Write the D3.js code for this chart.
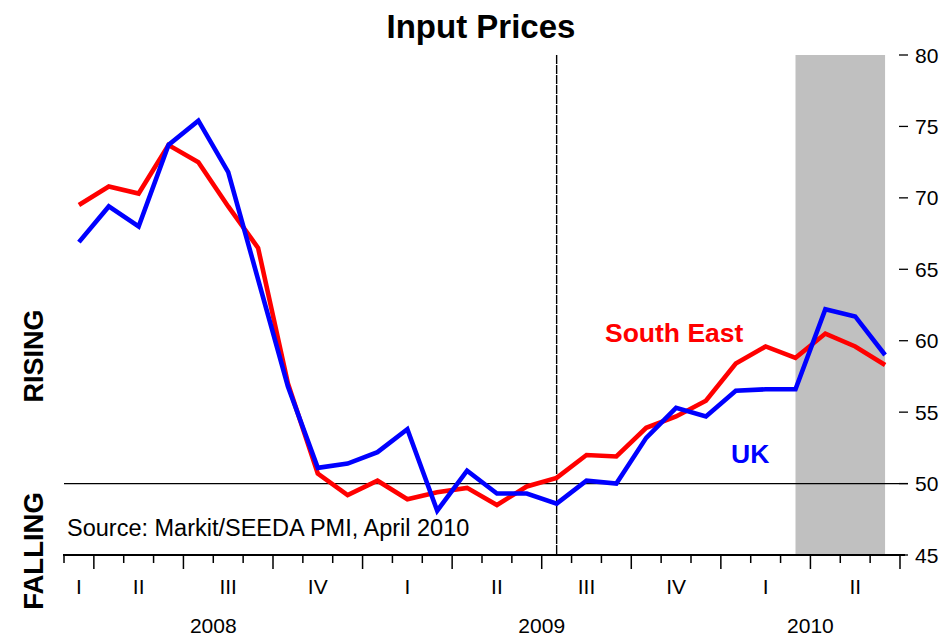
<!DOCTYPE html>
<html>
<head>
<meta charset="utf-8">
<script src="https://cdn.jsdelivr.net/npm/d3@7"></script>
<style>
  body { margin: 0; background: #fff; }
  svg text { font-family: "Liberation Sans", Arial, sans-serif; }
</style>
</head>
<body>
<div id="chart"></div>
<script>
// monthly points, Mar 2008 .. Jun 2010
var months = ["2008-03","2008-04","2008-05","2008-06","2008-07","2008-08","2008-09","2008-10","2008-11","2008-12",
  "2009-01","2009-02","2009-03","2009-04","2009-05","2009-06","2009-07","2009-08","2009-09","2009-10","2009-11","2009-12",
  "2010-01","2010-02","2010-03","2010-04","2010-05","2010-06"];

var southEast = [69.5, 70.8, 70.3, 73.7, 72.5, 69.4, 66.5, 57.0, 50.7, 49.2, 50.2, 48.9, 49.4, 49.7,
  48.5, 49.8, 50.4, 52.0, 51.9, 53.9, 54.7, 55.8, 58.4, 59.6, 58.8, 60.5, 59.6, 58.3];

var uk = [66.9, 69.4, 68.0, 73.7, 75.4, 71.8, 64.3, 56.8, 51.1, 51.4, 52.2, 53.8, 48.1, 50.9,
  49.3, 49.3, 48.6, 50.2, 50.0, 53.2, 55.3, 54.7, 56.5, 56.6, 56.6, 62.2, 61.7, 59.0];

var yTicks = [45, 50, 55, 60, 65, 70, 75, 80];
var quarterNames = ["I", "II", "III", "IV"];
var shadeFrom = "2010-03", shadeTo = "2010-06";
var markerMonth = "2009-07";
var neutral = 50;

var width = 946, height = 638;
var margin = {left: 64, right: 900, top: 55, bottom: 555};

var x = d3.scaleLinear().domain([-0.5, months.length - 0.5]).range([margin.left, margin.right]);
var y = d3.scaleLinear().domain([45, 80]).range([margin.bottom, margin.top]);

var svg = d3.select("#chart").append("svg")
  .attr("width", width).attr("height", height);

// shaded period
svg.append("rect")
  .attr("x", x(months.indexOf(shadeFrom)))
  .attr("width", x(months.indexOf(shadeTo)) - x(months.indexOf(shadeFrom)))
  .attr("y", y(80)).attr("height", y(45) - y(80))
  .attr("fill", "#c0c0c0");

// 50 line
svg.append("line")
  .attr("x1", margin.left).attr("x2", 908)
  .attr("y1", y(neutral)).attr("y2", y(neutral))
  .attr("stroke", "#000").attr("stroke-width", 1.3);

// dashed marker
svg.append("line")
  .attr("x1", x(months.indexOf(markerMonth))).attr("x2", x(months.indexOf(markerMonth)))
  .attr("y1", y(80)).attr("y2", y(45))
  .attr("stroke", "#000").attr("stroke-width", 1.4)
  .attr("stroke-dasharray", "9,1");

// lines
var line = d3.line().x(function(d, i) { return x(i); }).y(function(d) { return y(d); });
svg.append("path").datum(southEast).attr("d", line)
  .attr("fill", "none").attr("stroke", "#ff0000").attr("stroke-width", 4.6).attr("stroke-linejoin", "miter");
svg.append("path").datum(uk).attr("d", line)
  .attr("fill", "none").attr("stroke", "#0000ff").attr("stroke-width", 4.6).attr("stroke-linejoin", "miter");

// x axis
svg.append("line")
  .attr("x1", margin.left - 1).attr("x2", margin.right + 5)
  .attr("y1", y(45)).attr("y2", y(45))
  .attr("stroke", "#000").attr("stroke-width", 2);

var bounds = d3.range(months.length + 1);
svg.selectAll(".mtick").data(bounds).enter().append("line")
  .attr("x1", function(d) { return x(d - 0.5); })
  .attr("x2", function(d) { return x(d - 0.5); })
  .attr("y1", y(45))
  .attr("y2", function(d) {
    var m = d < months.length ? +months[d].slice(5) : 7;
    return y(45) + ((m - 1) % 3 === 0 ? 14 : 8);
  })
  .attr("stroke", "#000").attr("stroke-width", 1.5);

// quarter labels
var quarters = d3.groups(months.map(function(m, i) {
  return {i: i, key: m.slice(0, 4) + "Q" + Math.floor((+m.slice(5) - 1) / 3)};
}), function(d) { return d.key; });
svg.selectAll(".qlab").data(quarters).enter().append("text")
  .attr("x", function(d) { return x(d3.mean(d[1], function(e) { return e.i; })); })
  .attr("y", 594)
  .attr("text-anchor", "middle")
  .attr("font-size", 21)
  .text(function(d) { return quarterNames[+d[0].slice(5)]; });

// year labels
var years = d3.groups(months.map(function(m, i) { return {i: i, yr: m.slice(0, 4)}; }), function(d) { return d.yr; });
svg.selectAll(".ylab").data(years).enter().append("text")
  .attr("x", function(d) { return x(d3.mean(d[1], function(e) { return e.i; })); })
  .attr("y", 633)
  .attr("text-anchor", "middle")
  .attr("font-size", 21)
  .text(function(d) { return d[0]; });

// y axis ticks (right)
svg.selectAll(".ytick").data(yTicks).enter().append("line")
  .attr("x1", 899).attr("x2", 908)
  .attr("y1", function(d) { return y(d); }).attr("y2", function(d) { return y(d); })
  .attr("stroke", "#000").attr("stroke-width", 1.3);
svg.selectAll(".ylabel").data(yTicks).enter().append("text")
  .attr("x", 915).attr("y", function(d) { return y(d) + 7.5; })
  .attr("font-size", 21)
  .text(function(d) { return d; });

// title
svg.append("text").attr("x", 481).attr("y", 38).attr("text-anchor", "middle")
  .attr("font-size", 33).attr("font-weight", "bold").text("Input Prices");

// side labels
svg.append("text").attr("transform", "translate(43," + 356 + ") rotate(-90)")
  .attr("text-anchor", "middle").attr("font-size", 27).attr("font-weight", "bold").text("RISING");
svg.append("text").attr("transform", "translate(43," + 551 + ") rotate(-90)")
  .attr("text-anchor", "middle").attr("font-size", 27.5).attr("font-weight", "bold").text("FALLING");

// series labels
svg.append("text").attr("x", 605).attr("y", 342).attr("font-size", 26.5).attr("font-weight", "bold")
  .attr("fill", "#ff0000").text("South East");
svg.append("text").attr("x", 731).attr("y", 463).attr("font-size", 26.5).attr("font-weight", "bold")
  .attr("fill", "#0000ff").text("UK");

// source
svg.append("text").attr("x", 67).attr("y", 536).attr("font-size", 23.5)
  .text("Source: Markit/SEEDA PMI, April 2010");
</script>
</body>
</html>
